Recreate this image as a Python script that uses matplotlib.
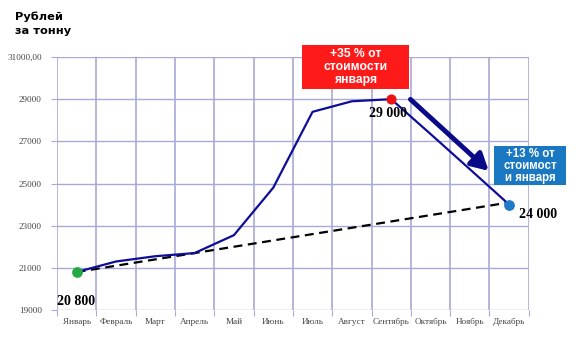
import matplotlib
matplotlib.use("Agg")
import matplotlib.pyplot as plt
from matplotlib.patches import Rectangle
import numpy as np

months = ["Январь", "Февраль", "Март", "Апрель", "Май", "Июнь", "Июль",
          "Август", "Сентябрь", "Октябрь", "Ноябрь", "Декабрь"]
price = [20800, 21300, 21550, 21700, 22550, 24800, 28400, 28900, 29000,
         27350, 25680, 24000]
trend_start, trend_end = 20800, 24100
y_ticks = [19000, 21000, 23000, 25000, 27000, 29000, 31000]
y_tick_labels = ["19000", "21000", "23000", "25000", "27000", "29000", "31000,00"]

grid_c = "#a9a9d6"
line_c = "#0d0d99"
tick_c = "#444444"

fig = plt.figure(figsize=(5.76, 3.42), dpi=100)
ax = fig.add_axes([0.099, 0.0936, 0.819, 0.7397])

x = np.arange(len(months))
ax.set_xlim(-0.5, len(months) - 0.5)
ax.set_ylim(19000, 31000)

# grid: vertical lines between categories, horizontal at ticks
for xv in np.arange(-0.5, len(months), 1.0):
    ax.axvline(xv, color=grid_c, lw=1.2, zorder=0)
for yv in y_ticks:
    ax.axhline(yv, color=grid_c, lw=1.0, zorder=0)

for s in ax.spines.values():
    s.set_visible(False)

ax.set_xticks(np.arange(-0.5, len(months), 1.0), minor=False)
ax.set_xticklabels([])
ax.set_xticks(x, minor=True)
ax.set_xticklabels(months, minor=True, fontfamily="Liberation Serif", fontsize=6.6, color=tick_c)
ax.tick_params(axis="x", which="major", length=4, color=grid_c, direction="out")
ax.tick_params(axis="x", which="minor", length=0, pad=6)
ax.set_yticks(y_ticks)
ax.set_yticklabels(y_tick_labels, fontfamily="Liberation Serif", fontsize=6.6, color=tick_c)
ax.tick_params(axis="y", length=4, color=grid_c, direction="out", pad=7)

# price line and trend
ax.plot(x, price, color=line_c, lw=1.6, zorder=3)
ax.plot([x[0], x[-1]], [trend_start, trend_end], color="black", lw=1.6,
        ls=(0, (4, 2.5)), zorder=2)

ax.scatter([x[0]], [price[0]], s=45, color="#22aa44", zorder=5)
ax.scatter([x[8]], [price[8]], s=40, color="#ee1111", zorder=5)
ax.scatter([x[11]], [price[11]], s=45, color="#1f78c8", zorder=5)

lab_font = dict(fontfamily="Liberation Serif", fontweight="bold", fontsize=10, color="black")
ax.annotate(f"{price[0]:,}".replace(",", " "), (x[0], price[0]), xytext=(-14, -26),
            textcoords="offset points", ha="left", va="bottom", **lab_font)
ax.annotate(f"{price[8]:,}".replace(",", " "), (x[8], price[8]), xytext=(-16, -15),
            textcoords="offset points", ha="left", va="bottom", **lab_font)
ax.annotate(f"{price[11]:,}".replace(",", " "), (x[11], price[11]), xytext=(7, -12),
            textcoords="offset points", ha="left", va="bottom", **lab_font)

# axis title
fig.text(0.026, 0.965, "Рублей\nза тонну", fontfamily="DejaVu Sans", fontweight="bold",
         fontsize=8.2, ha="left", va="top", linespacing=1.45)

# callout boxes
box_font = dict(fontfamily="Liberation Sans", fontweight="bold",
                color="white", ha="center", va="center")
fig.patches.append(Rectangle((0.524, 0.740), 0.186, 0.128, transform=fig.transFigure,
                             fc="#ff1a1a", ec="none", zorder=1))
fig.text(0.617, 0.804, "+35 % от\nстоимости\nянваря", fontsize=8.7,
         linespacing=1.12, **box_font)
fig.patches.append(Rectangle((0.858, 0.459), 0.125, 0.114, transform=fig.transFigure,
                             fc="#1a78c2", ec="none", zorder=1))
fig.text(0.9205, 0.516, "+13 % от\nстоимост\nи января", fontsize=8.3,
         linespacing=1.0, **box_font)

# trend arrow
ax.annotate("", xy=(0.852, 0.495), xytext=(0.709, 0.715), xycoords="figure fraction",
            textcoords="figure fraction",
            arrowprops=dict(arrowstyle="-|>,head_length=1.0,head_width=0.55",
                            color="#0a0a88", lw=3.5))

fig.savefig("out.png", dpi=100)
